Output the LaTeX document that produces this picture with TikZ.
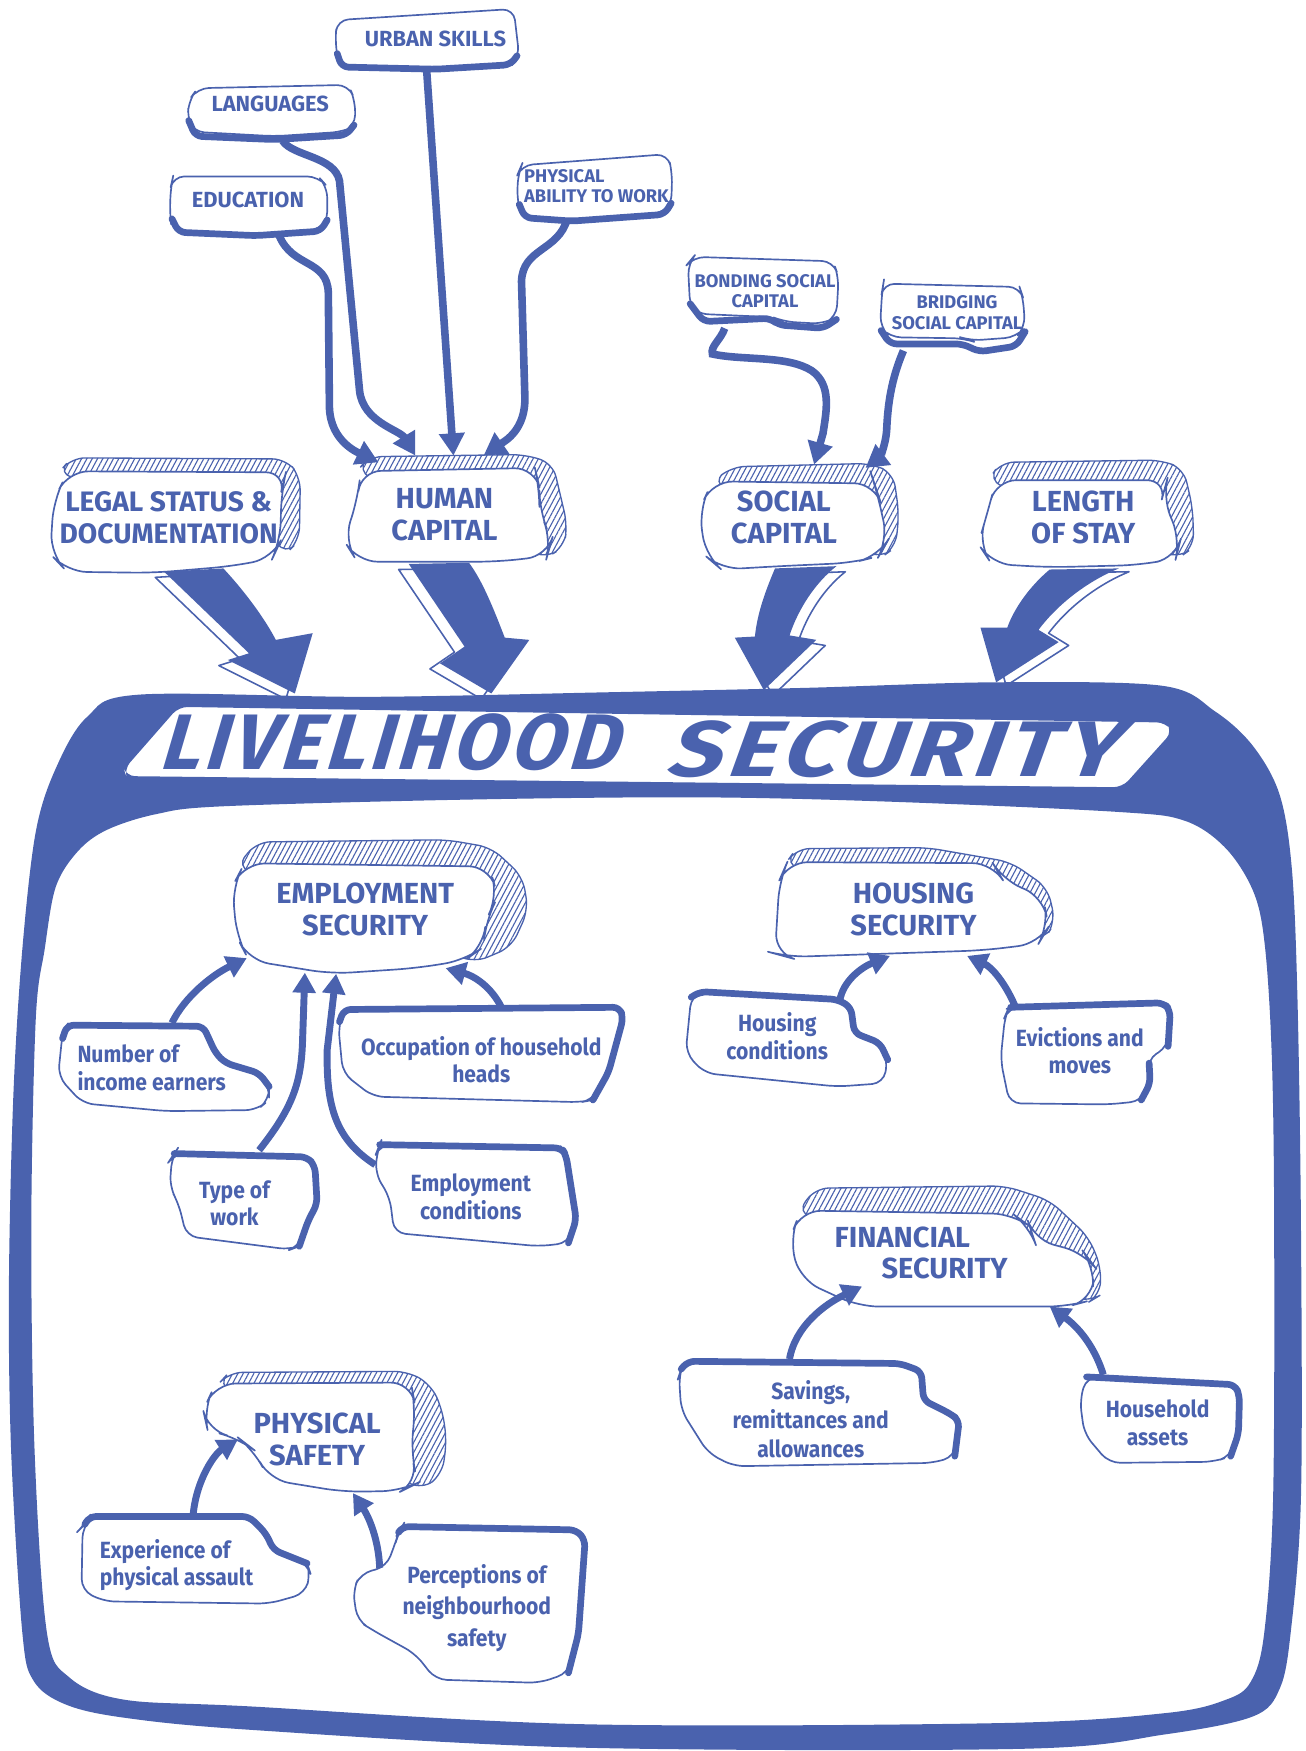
\documentclass[tikz,border=0pt]{standalone}
\usepackage{fontspec}
\usepackage{graphicx}
\setmainfont{Fira Sans}
\newfontfamily\lowf{Fira Sans}[FakeStretch=0.9]
\newfontfamily\titlef{Fira Sans}[FakeSlant=0.3,LetterSpace=6]
\usetikzlibrary{calc,arrows.meta,patterns.meta}
\definecolor{bl}{RGB}{74,98,174}
\pgfdeclarelayer{arrL}
\pgfdeclarelayer{frameL}
\pgfdeclarelayer{hatchL}
\pgfdeclarelayer{boxL}
\pgfsetlayers{arrL,frameL,hatchL,boxL,main}
\newcommand\fBig{\fontsize{13}{14.3}\selectfont\bfseries}
\newcommand\fSm{\fontsize{9.8}{9.2}\selectfont\bfseries}
\newcommand\fXs{\fontsize{8.2}{9}\selectfont\bfseries}
\newcommand\fIn{\lowf\fontsize{10.5}{12.3}\selectfont\bfseries}
\tikzset{
  lbl/.style={inner sep=0pt, text=bl, align=center},
  conn/.style={draw=bl, line width=3.4pt, -{Triangle[length=10pt,width=11pt]}},
  connb/.style={draw=bl, line width=3.1pt, -{Triangle[length=9pt,width=10pt]}},
  boxo/.style={draw=bl, line width=0.75pt, fill=white, rounded corners=5pt, line join=round},
  acc/.style={draw=bl, line width=3pt, rounded corners=3pt, line cap=round, line join=round},
  hatchf/.style={draw=bl, line width=0.6pt, rounded corners=6pt, pattern={Lines[angle=62,distance=2.1pt,line width=0.5pt]}, pattern color=bl},
  barr/.style={fill=bl},
  barrw/.style={fill=white, draw=bl, line width=0.7pt, line join=round},
}
\begin{document}
\begin{tikzpicture}[x=0.5pt,y=-0.5pt]
\useasboundingbox (0,0) rectangle (1169,1568);

% ---------------- text nodes ----------------
\node[lbl, font=\fSm] (urban) at (390,35) {URBAN SKILLS};
\node[lbl, font=\fSm] (lang) at (242,93) {LANGUAGES};
\node[lbl, font=\fSm] (edu) at (222,179) {EDUCATION};
\node[lbl, font=\fXs, align=left, anchor=west] (phys) at (469,166.5) {PHYSICAL\\ABILITY TO WORK};
\node[lbl, font=\fXs] (bond) at (685,261) {BONDING SOCIAL\\CAPITAL};
\node[lbl, font=\fXs] (bridge) at (857,280) {BRIDGING\\SOCIAL CAPITAL};

\node[lbl, font=\fontsize{12.6}{14.3}\selectfont\bfseries] (legal) at (151,464) {LEGAL STATUS \&\\DOCUMENTATION};
\node[lbl, font=\fBig] (human) at (398,461) {HUMAN\\CAPITAL};
\node[lbl, font=\fBig] (social) at (702,463.5) {SOCIAL\\CAPITAL};
\node[lbl, font=\fBig] (length) at (970,463.5) {LENGTH\\OF STAY};

\node[lbl, font=\fBig] (emp) at (327,814) {EMPLOYMENT\\SECURITY};
\node[lbl, font=\fBig] (hous) at (818,814) {HOUSING\\SECURITY};
\node[lbl, font=\fBig, align=left, anchor=west] (fin) at (747,1122) {FINANCIAL\\\hspace*{21pt}SECURITY};
\node[lbl, font=\fBig] (ps) at (284,1289) {PHYSICAL\\SAFETY};

\node[lbl, font=\fIn, align=left, anchor=west] (num) at (69,956) {Number of\\income earners};
\node[lbl, font=\fIn] (occ) at (431,949) {Occupation of household\\heads};
\node[lbl, font=\fIn] (type) at (210,1077.5) {Type of\\work};
\node[lbl, font=\fIn] (econd) at (421.6,1071.5) {Employment\\conditions};
\node[lbl, font=\fIn] (hcond) at (696,928) {Housing\\conditions};
\node[lbl, font=\fIn] (evict) at (967,941) {Evictions and\\moves};
\node[lbl, font=\lowf\fontsize{10.5}{13}\selectfont\bfseries] (sav) at (726,1271) {Savings,\\remittances and\\allowances};
\node[lbl, font=\fIn] (assets) at (1036.6,1274) {Household\\assets};
\node[lbl, font=\fIn, align=left, anchor=west] (exp) at (89,1401.5) {Experience of\\physical assault};
\node[lbl, font=\lowf\fontsize{10.5}{14.2}\selectfont\bfseries] (perc) at (427,1440) {Perceptions of\\neighbourhood\\safety};

% title
\node[text=bl] (t1) at (347,665) {\resizebox{205pt}{25pt}{\titlef\bfseries LIVELIHOOD}};
\node[text=bl] (t2) at (797,671) {\resizebox{202pt}{25pt}{\titlef\bfseries SECURITY}};

% ---------------- connectors ----------------
\draw[conn] ($(edu)+(28,32)$) .. controls (262,240) and (293,232) .. (294,262) -- (295,365) .. controls (296,395) and (320,405) .. ($(human)+(-59,-47)$);
\draw[conn] ($(lang)+(11,33)$) .. controls (262,140) and (300,140) .. (304,162) -- (322,350) .. controls (325,378) and (358,385) .. ($(human)+(-26,-53)$);
\draw[conn] ($(urban)+(-8,27)$) -- ($(human)+(8,-53)$);
\draw[conn] ($(phys.west)+(39,29.5)$) .. controls (500,225) and (468,222) .. (467,252) -- (470,355) .. controls (471,385) and (452,395) .. ($(human)+(35,-53)$);
\draw[conn] ($(bond)+(-36,33)$) .. controls (645,305) and (636,310) .. (638,317) .. controls (665,323) and (705,318) .. (727,332) .. controls (745,345) and (740,368) .. (737,388) -- ($(social)+(27,-47.5)$);
\draw[conn] ($(bridge)+(-48,34)$) .. controls (798,340) and (795,362) .. (794,385) .. controls (793,400) and (787,410) .. ($(social)+(73,-44.5)$);

\draw[connb] ($(num.west)+(85,-40)$) .. controls (165,893) and (190,873) .. ($(emp)+(-106,44)$);
\draw[connb] ($(type)+(22,-47.5)$) .. controls (262,992) and (270,970) .. (271,930) -- ($(emp)+(-54,57)$);
\draw[connb] ($(econd)+(-85.6,-28.5)$) .. controls (300,1020) and (292,990) .. (293,940) -- ($(emp)+(-26,58)$);
\draw[connb] ($(occ)+(18,-47)$) .. controls (440,884) and (425,874) .. ($(emp)+(72,53)$);
\draw[connb] ($(hcond)+(56,-32)$) .. controls (755,878) and (772,866) .. ($(hous)+(-21,42)$);
\draw[connb] ($(evict)+(-58,-40)$) .. controls (900,880) and (888,866) .. ($(hous)+(48,42)$);
\draw[connb] ($(sav)+(-19,-54)$) .. controls (712,1188) and (738,1168) .. ($(fin.west)+(25,30)$);
\draw[connb] ($(assets)+(-48.6,-43)$) .. controls (980,1205) and (965,1188) .. ($(fin.west)+(193,48)$);
\draw[connb] ($(exp.west)+(84,-45.5)$) .. controls (176,1325) and (192,1302) .. ($(ps)+(-71,0)$);
\draw[connb] ($(perc)+(-87,-36)$) .. controls (339,1378) and (330,1358) .. ($(ps)+(32,48)$);

% ---------------- big arrows ----------------
\begin{pgfonlayer}{arrL}
\path[barrw, shift={(-8,5)}] (147,512) -- (223,585) -- (204,591) -- (264,621) -- (280,567) -- (247,573) .. controls (235,550) and (215,525) .. (200,509) -- cycle;
\path[barr] (147,512) -- (223,585) -- (204,591) -- (264,621) -- (280,567) -- (247,573) .. controls (235,550) and (215,525) .. (200,509) -- cycle;
\path[barrw, shift={(-9,5)}] (366,505) -- (416,579) -- (394,594) -- (440,621) -- (474,573) -- (452,571) .. controls (442,545) and (432,520) .. (420,504) -- cycle;
\path[barr] (366,505) -- (416,579) -- (394,594) -- (440,621) -- (474,573) -- (452,571) .. controls (442,545) and (432,520) .. (420,504) -- cycle;
\path[barrw, shift={(8,5)}] (694,509) .. controls (685,530) and (678,550) .. (676,570) -- (658,571) -- (684,618) -- (731,573) -- (707,569) .. controls (715,545) and (730,522) .. (749,507) -- cycle;
\path[barr] (694,509) .. controls (685,530) and (678,550) .. (676,570) -- (658,571) -- (684,618) -- (731,573) -- (707,569) .. controls (715,545) and (730,522) .. (749,507) -- cycle;
\path[barrw, shift={(9,3)}] (940,510) .. controls (922,525) and (908,545) .. (902,562) -- (878,562) -- (892,611) -- (948,575) -- (930,564) .. controls (948,540) and (975,520) .. (1002,509) -- cycle;
\path[barr] (940,510) .. controls (922,525) and (908,545) .. (902,562) -- (878,562) -- (892,611) -- (948,575) -- (930,564) .. controls (948,540) and (975,520) .. (1002,509) -- cycle;
\end{pgfonlayer}

% ---------------- frame ----------------
\begin{pgfonlayer}{frameL}
\fill[bl, even odd rule]
  plot[smooth cycle, tension=0.55] coordinates {(125,622) (330,624) (540,620) (720,616) (890,611) (1040,614) (1088,637) (1122,668) (1146,712) (1157,780) (1162,900) (1165,1100) (1165,1340) (1156,1460) (1146,1512) (1122,1537) (1044,1553) (916,1566) (522,1565) (224,1549) (110,1538) (58,1526) (30,1505) (20,1462) (10,1300) (8,1150) (12,980) (20,850) (32,745) (50,688) (78,642)}
  plot[smooth cycle, tension=0.55] coordinates {(200,722) (420,716) (627,714) (800,718) (1000,727) (1061,735) (1098,760) (1123,800) (1133,850) (1139,950) (1141,1100) (1140,1343) (1132,1463) (1120,1506) (1098,1522) (1044,1534) (895,1543) (522,1544) (223,1528) (111,1522) (62,1502) (42,1462) (31,1300) (28,1100) (32,913) (40,850) (50,794) (70,762) (96,743) (140,729)}
  [rounded corners=4pt] (160,633) -- (1044,647) -- (1050,655) -- (1005,705) -- (113,695) -- (111,689) -- cycle;
\end{pgfonlayer}

% ---------------- hatches ----------------
\begin{pgfonlayer}{hatchL}
\path[hatchf] (52,424) -- (64,410) -- (256,411) -- (269,427) -- (268,484) -- (255,497) -- (238,470) -- cycle;
\path[hatchf] (320,422) -- (330,409) -- (470,407) -- (495,415) -- (501,440) -- (508,470) -- (505,490) -- (488,500) -- cycle;
\path[hatchf] (638,432) -- (655,418) -- (780,415) -- (800,424) -- (805,460) -- (802,490) -- (788,500) -- cycle;
\path[hatchf] (885,430) -- (896,414) -- (1040,412) -- (1060,420) -- (1068,455) -- (1069,490) -- (1055,500) -- cycle;
\path[hatchf] (212,776) -- (230,754) -- (400,752) -- (440,759) -- (468,785) -- (473,815) -- (458,848) -- (425,862) -- cycle;
\path[hatchf] (703,774) -- (713,760) -- (830,759) -- (905,772) -- (938,795) -- (945,825) -- (935,842) -- cycle;
\path[hatchf] (714,1086) -- (730,1064) -- (900,1062) -- (940,1075) -- (975,1108) -- (986,1135) -- (985,1160) -- (975,1166) -- cycle;
\path[hatchf] (195,1240) -- (205,1229) -- (365,1228) -- (386,1240) -- (396,1262) -- (400,1290) -- (396,1320) -- (378,1334) -- cycle;
\end{pgfonlayer}

% ---------------- boxes ----------------
\begin{pgfonlayer}{boxL}
% top small boxes
\path[boxo] (302,18) -- (460,8) -- (465,51) -- (457,60) -- (304,62) -- (300,36) -- cycle;
\path[acc] (302,48) -- (306,60) -- (390,62) -- (457,58) -- (463,50);
\path[boxo] (177,79) -- (312,76) -- (318,90) -- (318,113) -- (307,118) -- (246,122) -- (173,118) -- (168,107) -- (169,90) -- cycle;
\path[acc] (169,108) -- (175,122) -- (246,125) -- (310,121) -- (317,112);
\path[boxo] (155,158) -- (285,158) -- (293,167) -- (293,200) -- (285,206) -- (229,210) -- (154,206) -- (152,191) -- (153,167) -- cycle;
\path[acc] (154,196) -- (160,208) -- (229,211) -- (287,207) -- (293,197);
\path[boxo] (467,148) -- (598,138) -- (602,155) -- (601,185) -- (592,191) -- (512,197) -- (467,194) -- (463,179) -- (464,155) -- cycle;
\path[acc] (465,183) -- (470,195) -- (512,198) -- (595,192) -- (601,182);
\path[boxo] (621,230) -- (746,234) -- (751,248) -- (749,284) -- (737,290) -- (702,288) -- (692,284) -- (624,281) -- (618,275) -- (616,236) -- cycle;
\path[acc] (618,272) -- (630,288) -- (690,285) -- (697,291) -- (737,294) -- (749,286);
\path[boxo] (791,254) -- (913,257) -- (916,266) -- (918,293) -- (910,302) -- (869,305) -- (863,303) -- (797,302) -- (788,293) -- (790,260) -- cycle;
\path[acc] (789,296) -- (797,308) -- (862,308) -- (877,315) -- (910,310) -- (918,297);
% big boxes
\path[boxo, rounded corners=9pt] (61,422) -- (256,423) -- (252,440) -- (251,485) -- (244,500) -- (208,507) -- (137,513) -- (60,512) -- (45,496) -- (48,448) -- cycle;
\path[boxo, rounded corners=9pt] (323,422) -- (479,419) -- (483,436) -- (483,457) -- (494,484) -- (490,498) -- (446,503) -- (320,503) -- (308,484) -- (320,448) -- cycle;
\path[boxo, rounded corners=9pt] (638,431) -- (783,433) -- (785,439) -- (795,484) -- (787,498) -- (763,504) -- (698,507) -- (646,510) -- (632,498) -- (626,457) -- cycle;
\path[boxo, rounded corners=9pt] (892,430) -- (1045,430) -- (1041,445) -- (1057,484) -- (1053,500) -- (1020,506) -- (940,508) -- (888,505) -- (876,487) -- (884,460) -- cycle;
\path[boxo, rounded corners=9pt] (219,773) -- (438,776) -- (446,803) -- (435,824) -- (433,848) -- (416,860) -- (372,867) -- (297,872) -- (223,860) -- (212,839) -- (208,794) -- cycle;
\path[boxo, rounded corners=9pt] (705,772) -- (889,773) -- (898,788) -- (934,803) -- (939,830) -- (930,845) -- (881,851) -- (705,857) -- (694,854) -- (698,788) -- cycle;
\path[boxo, rounded corners=9pt] (717,1084) -- (907,1087) -- (922,1098) -- (926,1110) -- (971,1122) -- (980,1134) -- (978,1164) -- (956,1170) -- (769,1170) -- (717,1146) -- (707,1110) -- cycle;
\path[boxo, rounded corners=9pt] (193,1239) -- (368,1238) -- (372,1260) -- (368,1300) -- (374,1328) -- (360,1335) -- (308,1336) -- (241,1325) -- (227,1298) -- (214,1288) -- (186,1281) -- (182,1263) -- cycle;
% input boxes
\path[boxo] (56,925) -- (60,918) -- (182,919) -- (193,943) -- (202,952) -- (232,961) -- (241,973) -- (241,985) -- (230,994) -- (149,995) -- (74,988) -- (52,964) -- cycle;
\path[acc] (56,930) -- (60,918) -- (182,919) -- (193,943) -- (202,952) -- (232,961) -- (241,973);
\path[boxo] (308,904) -- (555,902) -- (558,912) -- (545,960) -- (531,985) -- (520,987) -- (334,982) -- (307,961) -- (303,919) -- cycle;
\path[acc] (304,915) -- (308,904) -- (555,902) -- (558,912) -- (545,960) -- (531,985);
\path[boxo] (156,1033) -- (275,1036) -- (282,1044) -- (284,1078) -- (276,1093) -- (268,1116) -- (260,1119) -- (167,1107) -- (160,1078) -- (152,1063) -- (154,1036) -- cycle;
\path[acc] (156,1033) -- (275,1036) -- (282,1044) -- (284,1078) -- (276,1093) -- (268,1116);
\path[boxo] (340,1025) -- (503,1028) -- (507,1035) -- (516,1092) -- (509,1113) -- (483,1116) -- (353,1104) -- (349,1072) -- (336,1051) -- (338,1030) -- cycle;
\path[acc] (340,1025) -- (503,1028) -- (507,1035) -- (516,1092) -- (509,1113);
\path[boxo] (619,892) -- (627,888) -- (750,895) -- (762,902) -- (765,925) -- (788,934) -- (795,949) -- (791,970) -- (750,973) -- (631,961) -- (614,943) -- cycle;
\path[acc] (619,893) -- (627,888) -- (750,895) -- (762,902) -- (765,925) -- (788,934) -- (795,949);
\path[boxo] (903,903) -- (911,901) -- (1042,898) -- (1048,905) -- (1046,937) -- (1027,949) -- (1031,970) -- (1022,986) -- (993,989) -- (904,988) -- (896,949) -- (900,910) -- cycle;
\path[acc] (905,902) -- (1042,898) -- (1048,905) -- (1046,937);
\path[acc] (1029,952) -- (1030,970) -- (1022,985);
\path[boxo] (610,1226) -- (616,1219) -- (806,1221) -- (825,1228) -- (827,1254) -- (851,1266) -- (859,1272) -- (855,1304) -- (836,1310) -- (657,1313) -- (634,1301) -- (610,1263) -- (608,1232) -- cycle;
\path[acc] (610,1226) -- (616,1219) -- (806,1221) -- (825,1228) -- (827,1254) -- (851,1266) -- (859,1272) -- (855,1304);
\path[boxo] (973,1233) -- (1106,1240) -- (1110,1250) -- (1109,1284) -- (1102,1304) -- (1087,1309) -- (993,1310) -- (971,1284) -- (967,1254) -- cycle;
\path[acc] (973,1233) -- (1106,1240) -- (1110,1250) -- (1109,1284) -- (1102,1304);
\path[boxo] (76,1365) -- (80,1358) -- (223,1358) -- (238,1373) -- (245,1388) -- (275,1400) -- (278,1409) -- (273,1427) -- (241,1436) -- (93,1434) -- (73,1424) -- (74,1367) -- cycle;
\path[acc] (76,1365) -- (80,1358) -- (223,1358) -- (238,1373) -- (245,1388) -- (275,1400);
\path[boxo] (357,1372) -- (360,1367) -- (516,1370) -- (524,1379) -- (518,1463) -- (509,1498) -- (483,1507) -- (390,1504) -- (372,1481) -- (334,1460) -- (320,1451) -- (316,1424) -- (323,1409) -- (346,1403) -- (355,1379) -- cycle;
\path[acc] (357,1372) -- (360,1367) -- (516,1370) -- (524,1379) -- (518,1463) -- (509,1498);
\end{pgfonlayer}
\end{tikzpicture}
\end{document}
